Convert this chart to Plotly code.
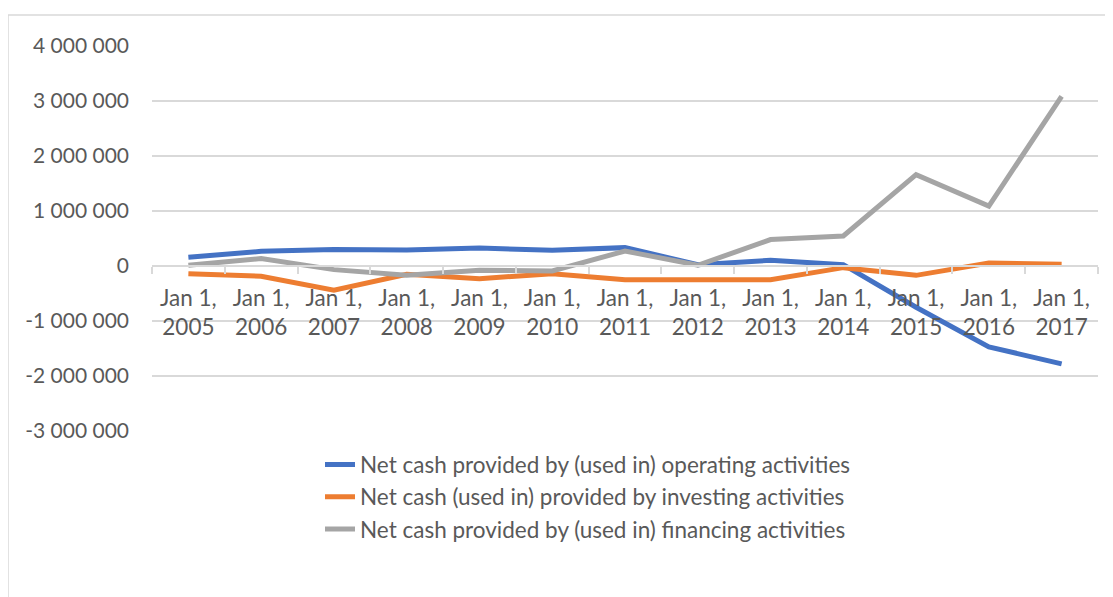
"""Cash flow lines (operating / investing / financing), Excel-style layout."""
import plotly.graph_objects as go

YEARS = [f"Jan 1,<br>{y}" for y in range(2005, 2018)]

OPERATING = [160000, 267000, 298000, 291000, 327000, 285000, 334000,
             25000, 104000, 25000, -750000, -1470000, -1780000]
INVESTING = [-139000, -187000, -440000, -150000, -230000, -139000, -248000,
             -242000, -248000, -30000, -170000, 55000, 31000]
FINANCING = [13000, 134000, -66000, -170000, -78000, -91000, 273000,
             13000, 480000, 545000, 1660000, 1090000, 3085000]

SERIES = [
    ("Net cash provided by (used in) operating activities", OPERATING, "#4472C4"),
    ("Net cash (used in) provided by investing activities", INVESTING, "#ED7D31"),
    ("Net cash provided by (used in) financing activities", FINANCING, "#A5A5A5"),
]

Y_TICKS = list(range(-3000000, 4000001, 1000000))
Y_LABELS = [f"{v:,}".replace(",", " ") for v in Y_TICKS]

TEXT = "#595959"
GRID = "#D9D9D9"
FONT = "Lato, 'Open Sans', sans-serif"

# the page body adds an 8px margin, so the figure is sized to fit the window
W, H = 1105, 589
M_L, M_R, M_T, M_B = 144, 15, 38, 166
PW, PH = W - M_L - M_R, H - M_T - M_B

fig = go.Figure()
for name, values, color in SERIES:
    fig.add_trace(
        go.Scatter(
            x=YEARS,
            y=values,
            mode="lines",
            name=name,
            line=dict(color=color, width=5),
        )
    )

# zero line sits 3/7 of the way up the plot area
zero_pos = 3 / 7

border_x = -M_L / PW
border_top = (H - M_B - 7) / PH

fig.update_layout(
    width=W,
    height=H,
    margin=dict(l=M_L, r=M_R, t=M_T, b=M_B),
    paper_bgcolor="white",
    plot_bgcolor="white",
    font=dict(family=FONT, size=22, color=TEXT),
    showlegend=True,
    legend=dict(
        x=(320 - 8 - M_L) / PW,
        xanchor="left",
        y=-0.032,
        yanchor="top",
        font=dict(size=22.5, color=TEXT),
        tracegroupgap=0,
        bgcolor="rgba(0,0,0,0)",
    ),
    xaxis=dict(
        type="category",
        range=[-0.5, len(YEARS) - 0.5],
        anchor="free",
        position=zero_pos,
        showgrid=False,
        showline=True,
        linecolor=GRID,
        linewidth=1.5,
        ticks="outside",
        tickson="boundaries",
        ticklen=7,
        tickcolor=GRID,
        tickwidth=1.5,
        ticklabelstandoff=12,
        tickfont=dict(size=22.5, color=TEXT),
        fixedrange=True,
    ),
    yaxis=dict(
        range=[-3000000, 4000000],
        tickvals=Y_TICKS,
        ticktext=Y_LABELS,
        showgrid=True,
        gridcolor=GRID,
        gridwidth=1.5,
        zeroline=False,
        showline=False,
        ticks="",
        ticklabelstandoff=22,
        tickfont=dict(size=21, color=TEXT),
        fixedrange=True,
    ),
    shapes=[
        dict(type="line", xref="paper", yref="paper",
             x0=border_x, x1=border_x, y0=-1, y1=border_top,
             line=dict(color=GRID, width=1.5)),
        dict(type="line", xref="paper", yref="paper",
             x0=border_x, x1=1.5, y0=border_top, y1=border_top,
             line=dict(color=GRID, width=1.5)),
    ],
)

fig.write_html("out.html")
